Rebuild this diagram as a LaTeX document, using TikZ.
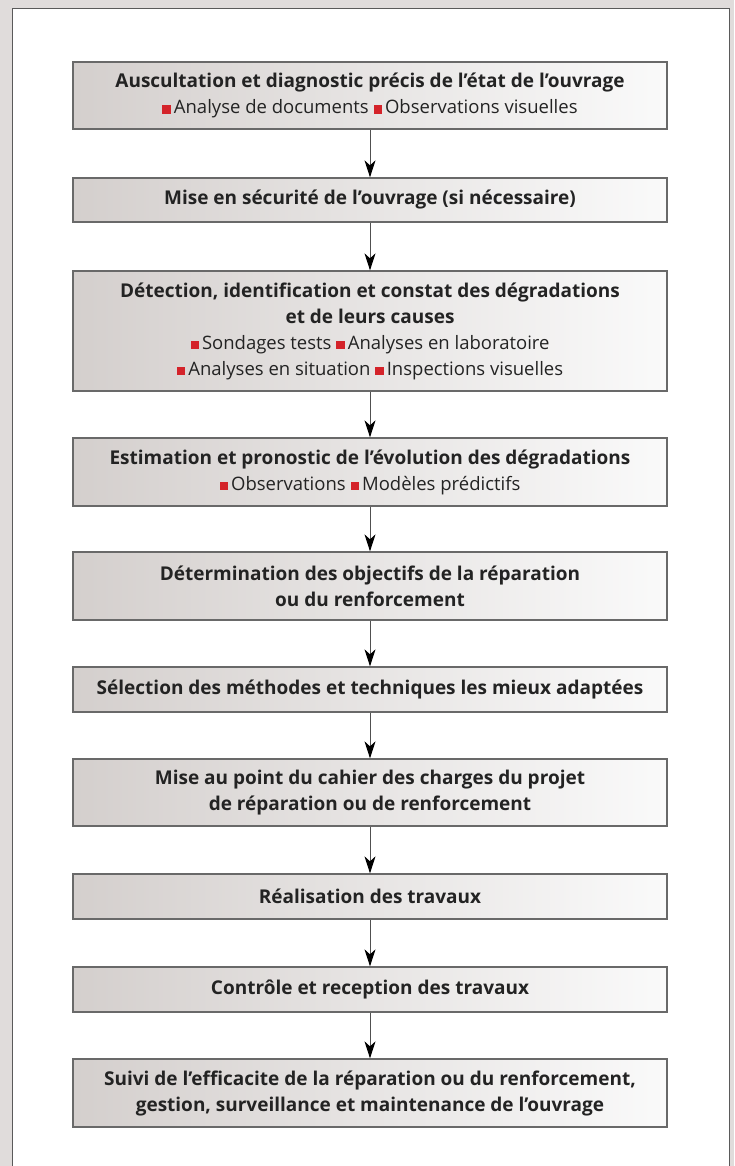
\documentclass[tikz,border=0pt]{standalone}
\usepackage{fontspec}
\setmainfont[Ligatures=NoCommon]{Open Sans}
\usetikzlibrary{arrows.meta}
\definecolor{bgc}{RGB}{224,220,219}
\definecolor{frameline}{RGB}{90,90,90}
\definecolor{boxline}{RGB}{105,105,105}
\definecolor{boxL}{RGB}{212,207,205}
\definecolor{boxR}{RGB}{250,250,250}
\definecolor{txt}{RGB}{35,35,35}
\definecolor{redsq}{RGB}{212,35,42}
\definecolor{arrline}{RGB}{80,80,80}
\newcommand\rsq{\textcolor{redsq}{\rule{8.5pt}{8.5pt}}\hspace{3pt}}
\newcommand\sub[1]{{\fontsize{18.5}{26}\fontseries{m}\selectfont #1}}
\begin{document}
\begin{tikzpicture}[x=1pt,y=-1pt,
  stepbox/.style={draw=boxline, line width=1.3pt, left color=boxL, right color=boxR,
    minimum width=594pt, inner sep=0pt, align=center, text=txt,
    font=\fontsize{19}{26}\selectfont\bfseries},
  arr/.style={draw=arrline, line width=1pt, -{Stealth[length=17pt,width=11pt,inset=5pt,fill=black,color=black]}}]
\useasboundingbox (0,0) rectangle (734,1166);
\fill[bgc] (0,0) rectangle (734,1166);
\fill[white] (12,9) rectangle (729,1166);
\draw[frameline, line width=1pt] (12,1166) -- (12,9) -- (729,9) -- (729,1166);
\node[stepbox, minimum height=67pt] (b1) at (370,95.5)
  {Auscultation et diagnostic précis de l’état de l’ouvrage\\
   \sub{\rsq Analyse de documents \rsq Observations visuelles}};
\node[stepbox, minimum height=44pt] (b2) at (370,200)
  {Mise en sécurité de l’ouvrage (si nécessaire)};
\node[stepbox, minimum height=120pt] (b3) at (370,331)
  {Détection, identification et constat des dégradations\\
   et de leurs causes\\
   \sub{\rsq Sondages tests \rsq Analyses en laboratoire}\\
   \sub{\rsq Analyses en situation \rsq Inspections visuelles}};
\node[stepbox, minimum height=68pt] (b4) at (370,472)
  {Estimation et pronostic de l’évolution des dégradations\\
   \sub{\rsq Observations \rsq Modèles prédictifs}};
\node[stepbox, minimum height=68pt] (b5) at (370,586)
  {Détermination des objectifs de la réparation\\ ou du renforcement};
\node[stepbox, minimum height=45pt] (b6) at (370,689.5)
  {Sélection des méthodes et techniques les mieux adaptées};
\node[stepbox, minimum height=67pt] (b7) at (370,792.5)
  {Mise au point du cahier des charges du projet\\ de réparation ou de renforcement};
\node[stepbox, minimum height=45pt] (b8) at (370,896.5)
  {Réalisation des travaux};
\node[stepbox, minimum height=45pt] (b9) at (370,989.5)
  {Contrôle et reception des travaux};
\node[stepbox, minimum height=68pt] (b10) at (370,1093)
  {Suivi de l’efficacite de la réparation ou du renforcement,\\
   gestion, surveillance et maintenance de l’ouvrage};
\foreach \a/\b in {b1/b2,b2/b3,b3/b4,b4/b5,b5/b6,b6/b7,b7/b8,b8/b9,b9/b10}
  \draw[arr] (\a.south) -- (\b.north);
\end{tikzpicture}
\end{document}
